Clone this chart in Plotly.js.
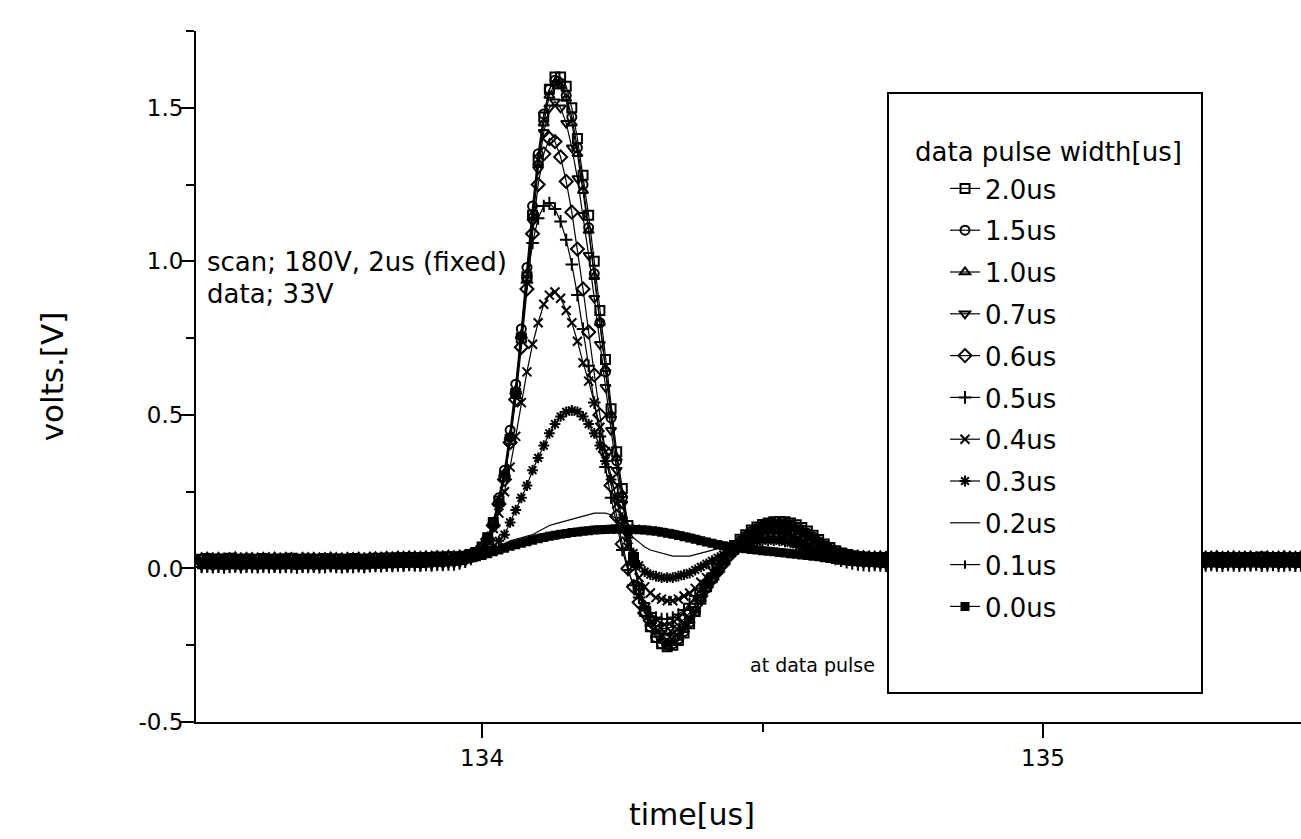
<!DOCTYPE html>
<html><head><meta charset="utf-8">
<script src="https://cdn.plot.ly/plotly-3.0.1.min.js"></script>
<style>html,body{margin:0;padding:0;background:#fff}#chart{width:1301px;height:839px}</style>
</head><body><div id="chart"></div>
<script>
const time_us = [
133.50,133.51,133.52,133.53,133.54,133.55,133.56,133.57,133.58,133.59,
133.60,133.61,133.62,133.63,133.64,133.65,133.66,133.67,133.68,133.69,
133.70,133.71,133.72,133.73,133.74,133.75,133.76,133.77,133.78,133.79,
133.80,133.81,133.82,133.83,133.84,133.85,133.86,133.87,133.88,133.89,
133.90,133.91,133.92,133.93,133.94,133.95,133.96,133.97,133.98,133.99,
134.00,134.01,134.02,134.03,134.04,134.05,134.06,134.07,134.08,134.09,
134.10,134.11,134.12,134.13,134.14,134.15,134.16,134.17,134.18,134.19,
134.20,134.21,134.22,134.23,134.24,134.25,134.26,134.27,134.28,134.29,
134.30,134.31,134.32,134.33,134.34,134.35,134.36,134.37,134.38,134.39,
134.40,134.41,134.42,134.43,134.44,134.45,134.46,134.47,134.48,134.49,
134.50,134.51,134.52,134.53,134.54,134.55,134.56,134.57,134.58,134.59,
134.60,134.61,134.62,134.63,134.64,134.65,134.66,134.67,134.68,134.69,
134.70,134.71,134.72,134.73,134.74,134.75,134.76,134.77,134.78,134.79,
134.80,134.81,134.82,134.83,134.84,134.85,134.86,134.87,134.88,134.89,
134.90,134.91,134.92,134.93,134.94,134.95,134.96,134.97,134.98,134.99,
135.00,135.01,135.02,135.03,135.04,135.05,135.06,135.07,135.08,135.09,
135.10,135.11,135.12,135.13,135.14,135.15,135.16,135.17,135.18,135.19,
135.20,135.21,135.22,135.23,135.24,135.25,135.26,135.27,135.28,135.29,
135.30,135.31,135.32,135.33,135.34,135.35,135.36,135.37,135.38,135.39,
135.40,135.41,135.42,135.43,135.44,135.45,135.46];

const v_2_0us = [
0.030,0.032,0.028,0.031,0.029,0.033,0.030,0.027,0.031,0.030,
0.029,0.032,0.030,0.028,0.031,0.030,0.033,0.029,0.030,0.031,
0.028,0.030,0.032,0.029,0.031,0.030,0.028,0.032,0.030,0.029,
0.031,0.033,0.032,0.034,0.033,0.035,0.034,0.036,0.035,0.034,
0.036,0.035,0.037,0.036,0.038,0.037,0.038,0.040,0.045,0.052,
0.07,0.10,0.15,0.22,0.30,0.42,0.57,0.75,0.95,1.15,
1.33,1.47,1.56,1.60,1.60,1.57,1.50,1.40,1.28,1.15,
1.00,0.84,0.68,0.52,0.38,0.26,0.14,0.03,-0.07,-0.14,
-0.19,-0.225,-0.245,-0.255,-0.25,-0.235,-0.21,-0.18,-0.14,-0.10,
-0.06,-0.03,0.00,0.03,0.055,0.075,0.095,0.11,0.125,0.135,
0.143,0.148,0.152,0.153,0.152,0.148,0.142,0.133,0.122,0.108,
0.094,0.080,0.068,0.058,0.050,0.045,0.041,0.038,0.037,0.036,
0.035,0.036,0.034,0.035,0.037,0.035,0.034,0.036,0.035,0.033,
0.035,0.037,0.034,0.036,0.035,0.033,0.036,0.035,0.034,0.036,
0.035,0.033,0.036,0.034,0.035,0.037,0.034,0.035,0.036,0.034,
0.035,0.036,0.033,0.035,0.037,0.034,0.035,0.036,0.034,0.035,
0.036,0.034,0.035,0.037,0.035,0.033,0.035,0.036,0.034,0.035,
0.034,0.036,0.035,0.033,0.036,0.035,0.037,0.034,0.035,0.036,
0.035,0.034,0.036,0.035,0.033,0.035,0.036,0.034,0.035,0.037,
0.035,0.034,0.036,0.035,0.033,0.035,0.036];

const v_1_5us = [
0.020,0.018,0.022,0.019,0.021,0.020,0.017,0.021,0.020,0.022,
0.019,0.021,0.020,0.018,0.022,0.020,0.019,0.021,0.018,0.020,
0.021,0.019,0.020,0.022,0.018,0.020,0.021,0.019,0.020,0.022,
0.023,0.022,0.024,0.023,0.025,0.024,0.026,0.025,0.024,0.026,
0.025,0.027,0.026,0.028,0.027,0.028,0.030,0.033,0.040,0.050,
0.07,0.10,0.15,0.23,0.32,0.45,0.60,0.78,0.98,1.18,
1.35,1.48,1.56,1.59,1.58,1.54,1.47,1.37,1.25,1.11,
0.96,0.80,0.64,0.49,0.35,0.23,0.12,0.02,-0.07,-0.14,
-0.19,-0.225,-0.245,-0.25,-0.245,-0.23,-0.205,-0.175,-0.14,-0.10,
-0.065,-0.035,-0.005,0.025,0.05,0.07,0.09,0.105,0.12,0.13,
0.138,0.143,0.146,0.147,0.145,0.141,0.135,0.126,0.115,0.102,
0.088,0.075,0.063,0.053,0.045,0.039,0.035,0.032,0.030,0.028,
0.027,0.025,0.026,0.024,0.025,0.027,0.024,0.026,0.025,0.023,
0.025,0.026,0.024,0.027,0.025,0.023,0.026,0.025,0.024,0.026,
0.024,0.026,0.025,0.023,0.026,0.025,0.024,0.027,0.025,0.024,
0.026,0.025,0.023,0.025,0.027,0.024,0.025,0.026,0.024,0.025,
0.025,0.024,0.026,0.025,0.023,0.026,0.025,0.024,0.026,0.025,
0.024,0.026,0.025,0.027,0.024,0.025,0.026,0.023,0.025,0.026,
0.025,0.023,0.026,0.025,0.024,0.026,0.025,0.027,0.024,0.025,
0.026,0.024,0.025,0.027,0.025,0.024,0.026];

const v_1_0us = [
0.035,0.037,0.034,0.036,0.033,0.035,0.038,0.034,0.036,0.035,
0.034,0.036,0.035,0.037,0.034,0.036,0.035,0.033,0.036,0.035,
0.036,0.034,0.035,0.037,0.035,0.034,0.036,0.035,0.037,0.034,
0.037,0.038,0.037,0.039,0.038,0.040,0.039,0.041,0.040,0.039,
0.041,0.040,0.042,0.041,0.043,0.042,0.043,0.045,0.050,0.057,
0.075,0.10,0.15,0.22,0.31,0.43,0.58,0.76,0.96,1.15,
1.32,1.45,1.54,1.58,1.57,1.53,1.45,1.35,1.23,1.10,
0.95,0.80,0.65,0.50,0.36,0.24,0.13,0.03,-0.06,-0.13,
-0.18,-0.215,-0.235,-0.245,-0.24,-0.225,-0.20,-0.17,-0.135,-0.10,
-0.065,-0.035,-0.005,0.02,0.045,0.065,0.085,0.10,0.115,0.125,
0.133,0.139,0.142,0.143,0.141,0.137,0.131,0.122,0.111,0.099,
0.087,0.076,0.066,0.058,0.052,0.048,0.045,0.043,0.042,0.041,
0.040,0.041,0.039,0.040,0.042,0.040,0.038,0.041,0.040,0.039,
0.041,0.040,0.038,0.040,0.042,0.039,0.040,0.041,0.039,0.040,
0.039,0.041,0.040,0.038,0.041,0.040,0.042,0.039,0.040,0.041,
0.040,0.039,0.041,0.040,0.038,0.040,0.041,0.039,0.042,0.040,
0.041,0.040,0.039,0.041,0.040,0.038,0.040,0.042,0.039,0.040,
0.039,0.040,0.042,0.040,0.039,0.041,0.040,0.038,0.041,0.040,
0.040,0.042,0.039,0.040,0.041,0.039,0.040,0.041,0.038,0.040,
0.041,0.039,0.040,0.042,0.040,0.039,0.041];

const v_0_7us = [
0.010,0.012,0.008,0.011,0.009,0.013,0.010,0.007,0.011,0.010,
0.009,0.012,0.010,0.008,0.011,0.010,0.013,0.009,0.010,0.011,
0.008,0.010,0.012,0.009,0.011,0.010,0.008,0.012,0.010,0.009,
0.012,0.013,0.012,0.014,0.013,0.015,0.014,0.016,0.015,0.014,
0.016,0.015,0.017,0.016,0.018,0.018,0.020,0.024,0.032,0.045,
0.065,0.095,0.14,0.21,0.30,0.42,0.57,0.75,0.94,1.13,
1.30,1.42,1.50,1.52,1.50,1.45,1.37,1.27,1.15,1.02,
0.88,0.73,0.59,0.45,0.32,0.21,0.11,0.02,-0.06,-0.12,
-0.165,-0.195,-0.21,-0.22,-0.22,-0.21,-0.19,-0.165,-0.135,-0.10,
-0.07,-0.04,-0.015,0.01,0.035,0.055,0.075,0.09,0.105,0.115,
0.124,0.13,0.134,0.135,0.133,0.129,0.123,0.115,0.104,0.092,
0.078,0.064,0.052,0.042,0.034,0.028,0.023,0.020,0.018,0.017,
0.016,0.015,0.014,0.016,0.015,0.013,0.016,0.015,0.014,0.016,
0.015,0.014,0.016,0.015,0.017,0.014,0.015,0.016,0.014,0.015,
0.016,0.015,0.013,0.015,0.016,0.014,0.015,0.017,0.015,0.014,
0.015,0.016,0.014,0.015,0.013,0.016,0.015,0.014,0.016,0.015,
0.014,0.015,0.016,0.014,0.015,0.017,0.015,0.014,0.015,0.016,
0.015,0.013,0.015,0.016,0.014,0.015,0.016,0.015,0.013,0.015,
0.016,0.015,0.014,0.016,0.015,0.014,0.016,0.015,0.017,0.014,
0.015,0.016,0.014,0.015,0.016,0.014,0.015];

const v_0_6us = [
0.025,0.023,0.026,0.024,0.027,0.025,0.022,0.026,0.024,0.025,
0.026,0.024,0.025,0.027,0.023,0.025,0.026,0.024,0.025,0.023,
0.024,0.026,0.025,0.023,0.026,0.024,0.027,0.025,0.024,0.026,
0.027,0.028,0.027,0.029,0.028,0.030,0.029,0.031,0.030,0.029,
0.031,0.030,0.032,0.031,0.033,0.032,0.033,0.036,0.040,0.048,
0.065,0.095,0.14,0.21,0.29,0.41,0.55,0.72,0.91,1.09,
1.25,1.35,1.40,1.39,1.34,1.26,1.16,1.04,0.91,0.77,
0.63,0.50,0.38,0.27,0.17,0.08,0.00,-0.06,-0.11,-0.145,
-0.17,-0.185,-0.195,-0.195,-0.19,-0.18,-0.165,-0.145,-0.12,-0.09,
-0.06,-0.035,-0.01,0.015,0.04,0.06,0.08,0.095,0.11,0.12,
0.127,0.131,0.133,0.133,0.13,0.125,0.118,0.109,0.098,0.086,
0.074,0.063,0.054,0.046,0.040,0.036,0.033,0.031,0.030,0.030,
0.031,0.029,0.030,0.032,0.030,0.028,0.031,0.030,0.029,0.031,
0.030,0.032,0.029,0.030,0.031,0.029,0.030,0.032,0.030,0.028,
0.030,0.031,0.029,0.030,0.032,0.030,0.029,0.031,0.030,0.029,
0.031,0.030,0.028,0.030,0.031,0.029,0.032,0.030,0.029,0.030,
0.029,0.031,0.030,0.032,0.029,0.030,0.031,0.029,0.030,0.031,
0.030,0.029,0.031,0.030,0.028,0.030,0.031,0.030,0.032,0.029,
0.031,0.030,0.029,0.031,0.030,0.032,0.029,0.030,0.031,0.030,
0.029,0.031,0.030,0.029,0.031,0.030,0.032];

const v_0_5us = [
0.005,0.007,0.004,0.006,0.003,0.005,0.008,0.004,0.006,0.005,
0.004,0.006,0.005,0.007,0.004,0.006,0.005,0.003,0.006,0.005,
0.006,0.004,0.005,0.007,0.005,0.004,0.006,0.005,0.007,0.004,
0.007,0.008,0.007,0.009,0.008,0.010,0.009,0.011,0.010,0.009,
0.011,0.010,0.012,0.011,0.013,0.013,0.016,0.022,0.031,0.045,
0.065,0.095,0.14,0.21,0.30,0.42,0.57,0.75,0.93,1.06,
1.14,1.18,1.19,1.17,1.13,1.07,0.99,0.89,0.78,0.66,
0.54,0.43,0.33,0.23,0.14,0.06,-0.005,-0.055,-0.095,-0.125,
-0.145,-0.16,-0.165,-0.165,-0.16,-0.15,-0.135,-0.115,-0.09,-0.065,
-0.04,-0.02,0.005,0.025,0.045,0.065,0.08,0.095,0.105,0.113,
0.118,0.12,0.12,0.118,0.114,0.108,0.1,0.09,0.079,0.068,
0.057,0.047,0.038,0.031,0.025,0.020,0.016,0.013,0.011,0.010,
0.011,0.010,0.009,0.011,0.010,0.008,0.011,0.010,0.009,0.011,
0.010,0.009,0.011,0.010,0.012,0.009,0.010,0.011,0.009,0.010,
0.011,0.010,0.008,0.010,0.011,0.009,0.010,0.012,0.010,0.009,
0.010,0.011,0.009,0.010,0.008,0.011,0.010,0.009,0.011,0.010,
0.009,0.010,0.011,0.009,0.010,0.012,0.010,0.009,0.010,0.011,
0.010,0.008,0.010,0.011,0.009,0.010,0.011,0.010,0.008,0.010,
0.011,0.010,0.009,0.011,0.010,0.009,0.011,0.010,0.012,0.009,
0.010,0.011,0.009,0.010,0.011,0.009,0.010];

const v_0_4us = [
0.028,0.030,0.027,0.029,0.026,0.028,0.031,0.027,0.029,0.028,
0.027,0.029,0.028,0.030,0.027,0.029,0.028,0.026,0.029,0.028,
0.029,0.027,0.028,0.030,0.028,0.027,0.029,0.028,0.030,0.027,
0.030,0.031,0.030,0.032,0.031,0.033,0.032,0.034,0.033,0.032,
0.034,0.033,0.035,0.034,0.036,0.036,0.038,0.041,0.046,0.052,
0.06,0.09,0.13,0.18,0.25,0.33,0.43,0.54,0.64,0.73,
0.80,0.86,0.89,0.90,0.88,0.84,0.80,0.74,0.67,0.61,
0.54,0.46,0.38,0.29,0.21,0.14,0.07,0.01,-0.03,-0.06,
-0.08,-0.095,-0.10,-0.105,-0.105,-0.10,-0.09,-0.08,-0.065,-0.045,
-0.03,-0.01,0.01,0.03,0.045,0.06,0.075,0.085,0.095,0.10,
0.105,0.107,0.107,0.105,0.101,0.096,0.089,0.081,0.072,0.063,
0.055,0.048,0.042,0.038,0.035,0.033,0.032,0.032,0.031,0.032,
0.033,0.031,0.032,0.034,0.032,0.030,0.033,0.032,0.031,0.033,
0.032,0.034,0.031,0.032,0.033,0.031,0.032,0.034,0.032,0.030,
0.032,0.033,0.031,0.032,0.034,0.032,0.031,0.033,0.032,0.031,
0.033,0.032,0.030,0.032,0.033,0.031,0.034,0.032,0.031,0.032,
0.031,0.033,0.032,0.034,0.031,0.032,0.033,0.031,0.032,0.033,
0.032,0.031,0.033,0.032,0.030,0.032,0.033,0.032,0.034,0.031,
0.033,0.032,0.031,0.033,0.032,0.034,0.031,0.032,0.033,0.032,
0.031,0.033,0.032,0.031,0.033,0.032,0.034];

const v_0_3us = [
0.015,0.013,0.016,0.014,0.017,0.015,0.012,0.016,0.014,0.015,
0.016,0.014,0.015,0.017,0.013,0.015,0.016,0.014,0.015,0.013,
0.014,0.016,0.015,0.013,0.016,0.014,0.017,0.015,0.014,0.016,
0.017,0.018,0.017,0.019,0.018,0.020,0.019,0.021,0.020,0.019,
0.021,0.020,0.022,0.021,0.023,0.024,0.026,0.029,0.033,0.038,
0.045,0.055,0.07,0.09,0.11,0.15,0.19,0.23,0.27,0.32,
0.36,0.40,0.44,0.47,0.495,0.51,0.515,0.51,0.495,0.47,
0.44,0.40,0.35,0.29,0.23,0.165,0.10,0.05,0.01,-0.01,
-0.02,-0.025,-0.03,-0.03,-0.03,-0.025,-0.02,-0.015,-0.005,0.005,
0.015,0.025,0.035,0.045,0.055,0.065,0.072,0.078,0.083,0.087,
0.09,0.091,0.091,0.09,0.087,0.083,0.078,0.072,0.065,0.058,
0.051,0.045,0.039,0.034,0.030,0.027,0.024,0.022,0.021,0.020,
0.021,0.019,0.020,0.022,0.020,0.018,0.021,0.020,0.019,0.021,
0.020,0.022,0.019,0.020,0.021,0.019,0.020,0.022,0.020,0.018,
0.020,0.021,0.019,0.020,0.022,0.020,0.019,0.021,0.020,0.019,
0.021,0.020,0.018,0.020,0.021,0.019,0.022,0.020,0.019,0.020,
0.019,0.021,0.020,0.022,0.019,0.020,0.021,0.019,0.020,0.021,
0.020,0.019,0.021,0.020,0.018,0.020,0.021,0.020,0.022,0.019,
0.021,0.020,0.019,0.021,0.020,0.022,0.019,0.020,0.021,0.020,
0.019,0.021,0.020,0.019,0.021,0.020,0.022];

const v_0_2us = [
0.020,0.021,0.019,0.020,0.022,0.020,0.019,0.021,0.020,0.019,
0.021,0.020,0.019,0.021,0.020,0.022,0.020,0.019,0.020,0.021,
0.020,0.019,0.021,0.020,0.019,0.021,0.020,0.022,0.020,0.019,
0.021,0.022,0.021,0.023,0.022,0.024,0.023,0.025,0.024,0.023,
0.025,0.024,0.026,0.025,0.027,0.027,0.029,0.031,0.034,0.037,
0.04,0.05,0.06,0.07,0.08,0.09,0.095,0.10,0.105,0.11,
0.12,0.13,0.14,0.145,0.15,0.155,0.16,0.165,0.17,0.175,
0.18,0.18,0.18,0.175,0.16,0.14,0.12,0.10,0.085,0.07,
0.06,0.055,0.05,0.045,0.04,0.04,0.04,0.04,0.045,0.05,
0.055,0.06,0.065,0.07,0.075,0.08,0.083,0.085,0.087,0.088,
0.088,0.087,0.085,0.082,0.078,0.073,0.067,0.061,0.055,0.049,
0.044,0.039,0.035,0.032,0.029,0.027,0.026,0.025,0.025,0.025,
0.025,0.026,0.024,0.025,0.026,0.025,0.024,0.026,0.025,0.024,
0.026,0.025,0.024,0.025,0.027,0.025,0.024,0.026,0.025,0.025,
0.024,0.025,0.026,0.025,0.024,0.026,0.025,0.024,0.025,0.026,
0.025,0.024,0.026,0.025,0.025,0.024,0.026,0.025,0.024,0.025,
0.026,0.025,0.024,0.025,0.026,0.025,0.024,0.025,0.026,0.025,
0.024,0.025,0.026,0.024,0.025,0.026,0.025,0.024,0.025,0.026,
0.025,0.026,0.025,0.024,0.025,0.026,0.024,0.025,0.026,0.025,
0.024,0.025,0.026,0.025,0.024,0.025,0.026];

const v_0_1us = [
0.002,0.000,0.003,0.001,-0.001,0.002,0.000,0.003,0.001,0.002,
0.000,0.002,0.001,-0.001,0.002,0.000,0.003,0.001,0.000,0.002,
0.001,0.003,0.000,0.002,0.001,-0.001,0.002,0.000,0.003,0.001,
0.004,0.005,0.004,0.006,0.005,0.007,0.006,0.008,0.007,0.006,
0.008,0.009,0.010,0.012,0.014,0.017,0.021,0.027,0.034,0.042,
0.05,0.055,0.06,0.065,0.07,0.075,0.08,0.085,0.09,0.095,
0.10,0.103,0.106,0.109,0.112,0.115,0.118,0.12,0.122,0.124,
0.126,0.127,0.128,0.129,0.13,0.13,0.13,0.13,0.129,0.128,
0.126,0.124,0.121,0.118,0.115,0.111,0.107,0.103,0.098,0.093,
0.088,0.083,0.079,0.075,0.072,0.069,0.067,0.065,0.063,0.062,
0.06,0.058,0.056,0.054,0.052,0.05,0.048,0.046,0.044,0.042,
0.04,0.037,0.034,0.031,0.028,0.025,0.022,0.019,0.016,0.014,
0.012,0.011,0.010,0.012,0.010,0.009,0.011,0.010,0.008,0.010,
0.011,0.009,0.010,0.012,0.010,0.008,0.010,0.011,0.009,0.010,
0.010,0.012,0.009,0.010,0.011,0.009,0.010,0.008,0.010,0.011,
0.009,0.010,0.011,0.010,0.008,0.010,0.012,0.010,0.009,0.010,
0.011,0.010,0.009,0.011,0.010,0.008,0.010,0.011,0.010,0.009,
0.010,0.011,0.009,0.010,0.012,0.010,0.009,0.010,0.011,0.010,
0.009,0.010,0.011,0.009,0.010,0.011,0.010,0.008,0.010,0.011,
0.010,0.009,0.011,0.010,0.009,0.011,0.010];

const v_0_0us = [
0.012,0.014,0.011,0.013,0.010,0.012,0.015,0.011,0.013,0.012,
0.011,0.013,0.012,0.014,0.011,0.013,0.012,0.010,0.013,0.012,
0.013,0.011,0.012,0.014,0.012,0.011,0.013,0.012,0.014,0.011,
0.014,0.015,0.014,0.016,0.015,0.017,0.016,0.018,0.017,0.016,
0.018,0.019,0.020,0.022,0.024,0.026,0.029,0.032,0.035,0.038,
0.042,0.048,0.054,0.06,0.066,0.072,0.077,0.082,0.087,0.092,
0.097,0.101,0.105,0.108,0.111,0.114,0.117,0.119,0.121,0.123,
0.125,0.126,0.127,0.128,0.128,0.128,0.128,0.127,0.126,0.125,
0.123,0.121,0.118,0.115,0.111,0.107,0.103,0.099,0.095,0.09,
0.086,0.082,0.078,0.074,0.071,0.068,0.066,0.064,0.062,0.06,
0.058,0.056,0.054,0.052,0.05,0.048,0.046,0.044,0.042,0.04,
0.038,0.035,0.032,0.029,0.027,0.025,0.023,0.022,0.021,0.020,
0.019,0.018,0.017,0.019,0.018,0.016,0.019,0.018,0.017,0.019,
0.018,0.017,0.019,0.018,0.020,0.017,0.018,0.019,0.017,0.018,
0.019,0.018,0.016,0.018,0.019,0.017,0.018,0.020,0.018,0.017,
0.018,0.019,0.017,0.018,0.016,0.019,0.018,0.017,0.019,0.018,
0.017,0.018,0.019,0.017,0.018,0.020,0.018,0.017,0.018,0.019,
0.018,0.016,0.018,0.019,0.017,0.018,0.019,0.018,0.016,0.018,
0.019,0.018,0.017,0.019,0.018,0.017,0.019,0.018,0.020,0.017,
0.018,0.019,0.017,0.018,0.019,0.017,0.018];

const seriesNames = ['2.0us','1.5us','1.0us','0.7us','0.6us','0.5us','0.4us','0.3us','0.2us','0.1us','0.0us'];
const xTickVals = [134, 135];
const xTickText = ['134', '135'];
const xMinorVals = [134.5];
const yTickVals = [-0.5, 0, 0.5, 1.0, 1.5];
const yTickText = ['-0.5', '0.0', '0.5', '1.0', '1.5'];
const yMinorVals = [-0.25, 0.25, 0.75, 1.25, 1.75];

const seriesValues = [v_2_0us, v_1_5us, v_1_0us, v_0_7us, v_0_6us, v_0_5us, v_0_4us, v_0_3us, v_0_2us, v_0_1us, v_0_0us];

const markerStyles = [
  {symbol: 'square-open', size: 9},
  {symbol: 'circle-open', size: 9},
  {symbol: 'triangle-up-open', size: 9},
  {symbol: 'triangle-down-open', size: 9},
  {symbol: 'diamond-open', size: 10},
  {symbol: 'cross-thin-open', size: 9},
  {symbol: 'x-thin-open', size: 9},
  {symbol: 'asterisk-open', size: 9},
  null,
  {symbol: 'line-ns-open', size: 6},
  {symbol: 'square', size: 7}
];

const traces = seriesValues.map(function (vals, i) {
  const st = markerStyles[i];
  const tr = {
    type: 'scatter',
    x: time_us,
    y: vals,
    name: seriesNames[i],
    legendgroup: 'g' + i,
    mode: st ? 'lines+markers' : 'lines',
    line: {color: 'black', width: 1.2}
  };
  if (st) {
    tr.marker = {symbol: st.symbol, size: st.size, color: 'black', line: {color: 'black', width: 2}};
  }
  return tr;
});

const PL = 196, PR = 1301, PT = 31, PB = 722;
function px(x) { return (x - PL) / (PR - PL); }
function py(y) { return (PB - y) / (PB - PT); }

const layout = {
  width: 1301, height: 839,
  margin: {l: PL, r: 1301 - PR, t: PT, b: 839 - PB, pad: 0},
  paper_bgcolor: 'white', plot_bgcolor: 'white',
  font: {family: 'DejaVu Sans', color: 'black', size: 23},
  showlegend: true,
  legend: {
    x: px(945), y: py(165), xanchor: 'left', yanchor: 'top',
    font: {family: 'DejaVu Sans', size: 26, color: 'black'},
    bgcolor: 'rgba(0,0,0,0)', borderwidth: 0, tracegroupgap: 5
  },
  xaxis: {
    range: [133.49, 135.46], tickmode: 'array', tickvals: xTickVals, ticktext: xTickText,
    ticks: 'outside', ticklen: 14, tickwidth: 2, tickcolor: 'black',
    showline: true, linewidth: 2, linecolor: 'black', showgrid: false, zeroline: false,
    minor: {tickmode: 'array', tickvals: xMinorVals, ticks: 'outside', ticklen: 8, tickwidth: 2, tickcolor: 'black'},
    tickfont: {size: 23}
  },
  yaxis: {
    range: [-0.5, 1.75], tickmode: 'array', tickvals: yTickVals, ticktext: yTickText,
    ticks: 'outside', ticklen: 14, tickwidth: 2, tickcolor: 'black',
    showline: true, linewidth: 2, linecolor: 'black', showgrid: false, zeroline: false,
    minor: {tickmode: 'array', tickvals: yMinorVals, ticks: 'outside', ticklen: 8, tickwidth: 2, tickcolor: 'black'},
    tickfont: {size: 23},
    ticklabelstandoff: -8,
    title: {text: 'volts.[V]', font: {size: 31}, standoff: 66}
  },
  shapes: [
    {type: 'rect', xref: 'paper', yref: 'paper', x0: px(888), x1: px(1202), y0: py(693), y1: py(93),
     line: {color: 'black', width: 2}, fillcolor: 'white', layer: 'above'}
  ],
  annotations: [
    {xref: 'paper', yref: 'paper', x: px(692), y: py(815), xanchor: 'center', yanchor: 'middle', showarrow: false,
     text: 'time[us]', font: {size: 30}},
    {xref: 'paper', yref: 'paper', x: px(913), y: py(152), xanchor: 'left', yanchor: 'middle', showarrow: false,
     text: 'data pulse width[us]', font: {size: 26}},
    {xref: 'paper', yref: 'paper', x: px(205), y: py(262), xanchor: 'left', yanchor: 'middle', showarrow: false,
     text: 'scan; 180V, 2us (fixed)', font: {size: 26}},
    {xref: 'paper', yref: 'paper', x: px(205), y: py(294), xanchor: 'left', yanchor: 'middle', showarrow: false,
     text: 'data; 33V', font: {size: 26}},
    {xref: 'paper', yref: 'paper', x: px(748), y: py(665), xanchor: 'left', yanchor: 'middle', showarrow: false,
     text: 'at data pulse', font: {size: 19}}
  ]
};

Plotly.newPlot('chart', traces, layout, {displayModeBar: false, staticPlot: true});
</script>
</body></html>
